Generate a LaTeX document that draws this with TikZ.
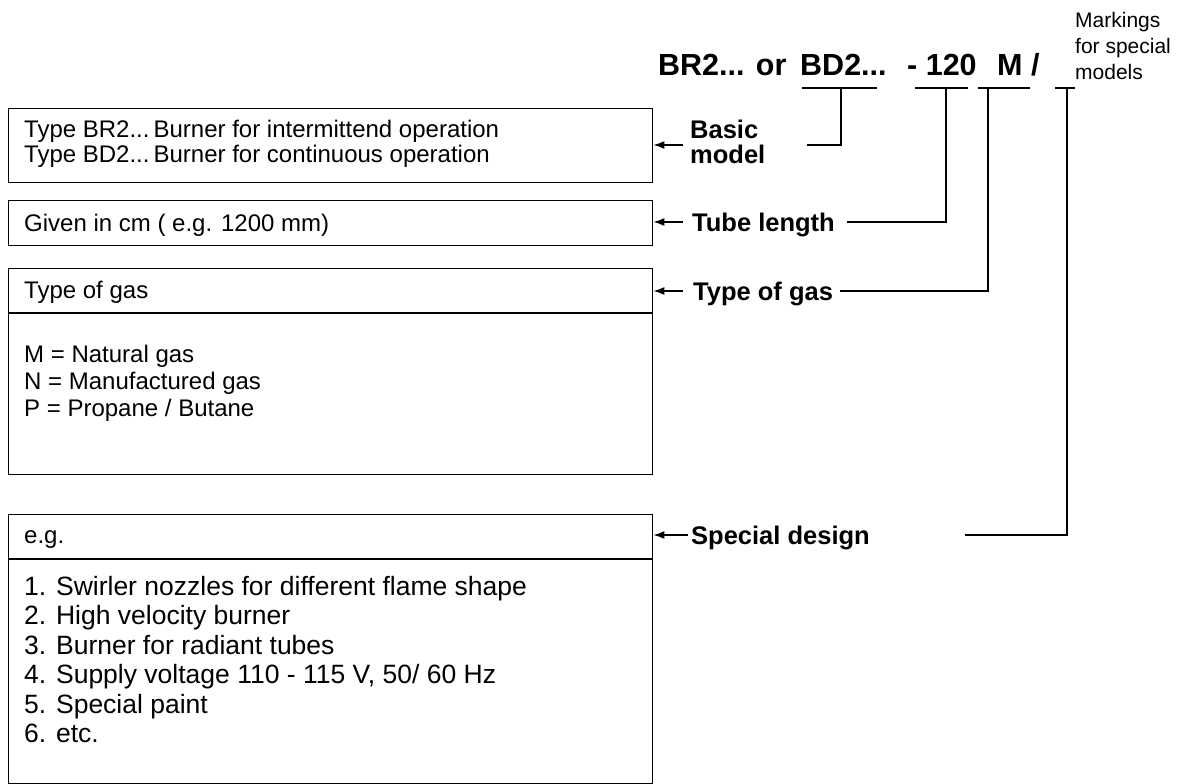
\documentclass[tikz,border=0pt]{standalone}
\usepackage{fontspec}
\setmainfont{Liberation Sans}
\usetikzlibrary{arrows.meta}
\begin{document}
\begin{tikzpicture}[x=1pt,y=-1pt,
  box/.style={draw, line width=1.4pt, anchor=north west, inner sep=0pt, minimum width=644pt},
  txt/.style={anchor=base west, inner sep=0pt, font=\fontsize{24}{24}\selectfont},
  big/.style={anchor=base west, inner sep=0pt, font=\fontsize{26.5}{26.5}\selectfont},
  lab/.style={anchor=base west, inner sep=0pt, font=\fontsize{25.5}{25.5}\selectfont\bfseries},
  head/.style={anchor=base west, inner sep=0pt, font=\fontsize{30.5}{30.5}\selectfont\bfseries},
  marktxt/.style={anchor=base west, inner sep=0pt, font=\fontsize{21}{21}\selectfont},
  conn/.style={line width=1.4pt},
  arr/.style={line width=1.4pt, -{Latex[length=11pt,width=8pt]}}]
\useasboundingbox (0,0) rectangle (1189,784);
% boxes
\node[box, minimum height=74pt] (b1) at (8,108) {};
\node[box, minimum height=45pt] (b2) at (8,200) {};
\node[box, minimum height=206pt] (b3) at (8,268) {};
\node[box, minimum height=269pt] (b4) at (8,514) {};
\draw[conn] (8,313) coordinate (d3l) -- (652,313) coordinate (d3r);
\draw[conn] (8,559) coordinate (d4l) -- (652,559) coordinate (d4r);
% box texts
\node[txt] (t1a) at (24,137) {Type BR2...\,Burner for intermittend operation};
\node[txt] (t1b) at (24,162) {Type BD2...\,Burner for continuous operation};
\node[txt] (t2) at (24,231) {Given in cm ( e.g. 1200 mm)};
\node[txt] (t3) at (24,298) {Type of gas};
\node[txt] (t3a) at (24,362) {M = Natural gas};
\node[txt] (t3b) at (24,389) {N = Manufactured gas};
\node[txt] (t3c) at (24,416) {P = Propane / Butane};
\node[txt] (t4) at (24,543) {e.g.};
\node[big] (l1) at (24,595) {1. Swirler nozzles for different flame shape};
\node[big] (l2) at (24,624.5) {2. High velocity burner};
\node[big] (l3) at (24,654) {3. Burner for radiant tubes};
\node[big] (l4) at (24,683.5) {4. Supply voltage 110 - 115 V, 50/ 60 Hz};
\node[big] (l5) at (24,713) {5. Special paint};
\node[big] (l6) at (24,742.5) {6. etc.};
% header
\node[head] (h1) at (658,75) {BR2... or};
\node[head] (h2) at (800,75) {BD2...};
\node[head] (h3) at (907,75) {- 120};
\node[head] (h4) at (997,75) {M /};
\node[marktxt] (mk1) at (1075,28) {Markings};
\node[marktxt] (mk2) at (1075,54) {for special};
\node[marktxt] (mk3) at (1075,79) {models};
% labels
\node[lab] (lb1) at (690,138) {Basic};
\node[lab] (lb1b) at (690,163) {model};
\node[lab] (lb2) at (692,231) {Tube length};
\node[lab] (lb3) at (693,300) {Type of gas};
\node[lab] (lb4) at (691,544) {Special design};
% arrows into boxes
\coordinate (a1) at (683,145);
\coordinate (a2) at (683,222);
\coordinate (a3) at (683,291);
\coordinate (a4) at (688,535);
\draw[arr] (a1) -- (a1 -| b1.east);
\draw[arr] (a2) -- (a2 -| b2.east);
\draw[arr] (a3) -- (a3 -| b3.east);
\draw[arr] (a4) -- (a4 -| b4.east);
% underlines
\coordinate (u1a) at (802,88); \coordinate (u1b) at (877,88);
\coordinate (u2a) at (915,88); \coordinate (u2b) at (968,88);
\coordinate (u3a) at (978,88); \coordinate (u3b) at (1030,88);
\coordinate (u4a) at (1055,88); \coordinate (u4b) at (1075,88);
\draw[conn] (u1a) -- (u1b);
\draw[conn] (u2a) -- (u2b);
\draw[conn] (u3a) -- (u3b);
\draw[conn] (u4a) -- (u4b);
% connectors
\coordinate (c1) at (807,145); \coordinate (v1) at (841,88);
\coordinate (c2) at (847,222); \coordinate (v2) at (946,88);
\coordinate (c3) at (840,291); \coordinate (v3) at (988,88);
\coordinate (c4) at (965,535); \coordinate (v4) at (1067,88);
\draw[conn] (c1) -- (c1 -| v1) -- (v1);
\draw[conn] (c2) -- (c2 -| v2) -- (v2);
\draw[conn] (c3) -- (c3 -| v3) -- (v3);
\draw[conn] (c4) -- (c4 -| v4) -- (v4);
\end{tikzpicture}
\end{document}
